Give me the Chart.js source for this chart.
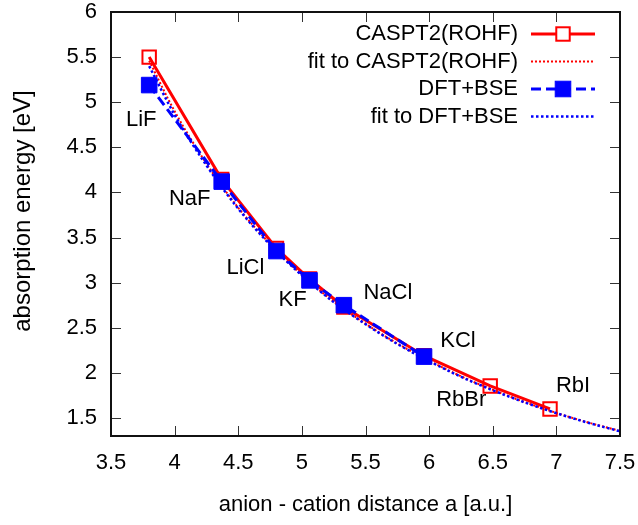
<!DOCTYPE html>
<html><head><meta charset="utf-8">
<script src="https://cdn.jsdelivr.net/npm/chart.js@4.4.0/dist/chart.umd.min.js"></script>
<style>html,body{margin:0;padding:0;background:#fff}#wrap{width:638px;height:525px;position:relative}canvas{display:block}</style>
</head><body><div id="wrap"><canvas id="c" width="638" height="525" style="width:638px;height:525px"></canvas></div>
<script>
// ---- data ----
const compounds = ['LiF','NaF','LiCl','KF','NaCl','KCl','RbBr','RbI'];
const distance  = [3.80, 4.37, 4.80, 5.06, 5.33, 5.96, 6.48, 6.95];
const caspt2    = [5.50, 4.145, 3.38, 3.04, 2.73, 2.19, 1.855, 1.60];
const dftBse    = [5.19, 4.12, 3.35, 3.025, 2.75, 2.18];   // LiF .. KCl
const fitX      = [3.8, 4.0, 4.25, 4.5, 4.75, 5.0, 5.25, 5.5, 5.75, 6.0, 6.25, 6.5, 6.75, 7.0, 7.25, 7.5];
const fitCaspt2 = [5.46, 4.90, 4.32, 3.83, 3.43, 3.085, 2.79, 2.545, 2.325, 2.135, 1.962, 1.812, 1.677, 1.556, 1.450, 1.355];
const fitDft    = [5.40, 4.86, 4.30, 3.82, 3.42, 3.08, 2.785, 2.54, 2.32, 2.13, 1.957, 1.807, 1.673, 1.553, 1.447, 1.352];
const xTicks = [3.5, 4, 4.5, 5, 5.5, 6, 6.5, 7, 7.5];
const yTicks = [1.5, 2, 2.5, 3, 3.5, 4, 4.5, 5, 5.5, 6];
const seriesNames = ['CASPT2(ROHF)', 'fit to CASPT2(ROHF)', 'DFT+BSE', 'fit to DFT+BSE'];
const xTitle = 'anion - cation distance a [a.u.]';
const yTitle = 'absorption energy [eV]';

// ---- styling ----
const FONT = '"Liberation Sans", Arial, sans-serif';
const labelOffsets = [[-8,63],[-32,20],[-31,20],[-17,21],[44,-14],[34,-15],[-29,14],[23,-23]];

const pts = (xs, ys) => ys.map((y, i) => ({x: xs[i], y}));

const tickPlugin = {
  id: 'gnuTicks',
  afterDatasetsDraw(chart) {
    const {ctx, chartArea: a, scales: {x, y}} = chart;
    ctx.save();
    ctx.strokeStyle = '#333';
    ctx.lineWidth = 1;
    const L = 10;
    ctx.beginPath();
    xTicks.forEach(v => {
      const px = Math.round(x.getPixelForValue(v)) + 0.5;
      ctx.moveTo(px, a.bottom); ctx.lineTo(px, a.bottom - L);
      ctx.moveTo(px, a.top); ctx.lineTo(px, a.top + L);
    });
    yTicks.forEach(v => {
      const py = Math.round(y.getPixelForValue(v)) + 0.5;
      ctx.moveTo(a.left, py); ctx.lineTo(a.left + L, py);
      ctx.moveTo(a.right, py); ctx.lineTo(a.right - L, py);
    });
    ctx.stroke();
    ctx.strokeStyle = '#111';
    ctx.lineWidth = 2;
    ctx.strokeRect(a.left, a.top, a.right - a.left, a.bottom - a.top);

    // y axis title
    ctx.save();
    ctx.fillStyle = '#000';
    ctx.font = '24px ' + FONT;
    ctx.textAlign = 'center';
    ctx.textBaseline = 'middle';
    ctx.translate(23, 211);
    ctx.rotate(-Math.PI / 2);
    ctx.fillText(yTitle, 0, 0);
    ctx.restore();

    // compound labels
    ctx.fillStyle = '#000';
    ctx.font = '22px ' + FONT;
    ctx.textAlign = 'center';
    ctx.textBaseline = 'middle';
    compounds.forEach((c, i) => {
      const px = x.getPixelForValue(distance[i]) + labelOffsets[i][0];
      const py = y.getPixelForValue(caspt2[i]) + labelOffsets[i][1];
      ctx.fillText(c, px, py);
    });

    // legend (gnuplot style: text right aligned, sample to the right)
    const textRight = 518, s0 = 531, s1 = 595, rowY = 34, rowH = 27.5;
    chart.data.datasets.forEach((ds, i) => {
      const yy = rowY + i * rowH;
      ctx.textAlign = 'right';
      ctx.fillStyle = '#000';
      ctx.fillText(ds.label, textRight, yy);
      ctx.save();
      ctx.strokeStyle = ds.borderColor;
      ctx.lineWidth = ds.borderWidth;
      ctx.setLineDash(ds.borderDash || []);
      ctx.beginPath(); ctx.moveTo(s0, yy); ctx.lineTo(s1, yy); ctx.stroke();
      ctx.restore();
      if (ds.pointRadius > 0) {
        ctx.save();
        const half = ds.pointRadius * Math.SQRT1_2;
        const cx = (s0 + s1) / 2;
        ctx.fillStyle = ds.pointBackgroundColor === 'transparent' ? '#fff' : ds.pointBackgroundColor;
        ctx.fillRect(cx - half, yy - half, 2*half, 2*half);
        ctx.strokeStyle = ds.pointBorderColor;
        ctx.lineWidth = ds.pointBorderWidth;
        ctx.strokeRect(cx - half, yy - half, 2*half, 2*half);
        ctx.restore();
      }
    });
    ctx.restore();
  }
};

Chart.defaults.color = '#000';
Chart.defaults.font.family = FONT;

new Chart(document.getElementById('c'), {
  type: 'line',
  data: {
    datasets: [
      { label: seriesNames[0], data: pts(distance, caspt2), borderColor: '#ff0000', borderWidth: 3,
        pointStyle: 'rect', pointRadius: 9.5, pointBorderWidth: 2, pointBorderColor: '#ff0000',
        pointBackgroundColor: 'transparent', order: 4 },
      { label: seriesNames[1], data: pts(fitX, fitCaspt2), borderColor: '#ff0000', borderWidth: 2,
        borderDash: [2, 2], pointRadius: 0, cubicInterpolationMode: 'monotone', order: 3 },
      { label: seriesNames[2], data: pts(distance.slice(0, dftBse.length), dftBse), borderColor: '#0000ff',
        borderWidth: 3, borderDash: [10, 5], pointStyle: 'rect', pointRadius: 11, pointBorderWidth: 1,
        pointBorderColor: '#0000ff', pointBackgroundColor: '#0000ff', order: 2 },
      { label: seriesNames[3], data: pts(fitX, fitDft), borderColor: '#0000ff', borderWidth: 2.5,
        borderDash: [2.5, 2.5], pointRadius: 0, cubicInterpolationMode: 'monotone', order: 1 }
    ]
  },
  options: {
    responsive: false, maintainAspectRatio: false, animation: false,
    devicePixelRatio: 1,
    layout: { padding: { top: 8, right: 18, left: 0, bottom: 0 } },
    plugins: { legend: { display: false }, tooltip: { enabled: false } },
    elements: { line: { tension: 0 } },
    scales: {
      x: {
        type: 'linear', min: 3.5, max: 7.5,
        afterBuildTicks: s => { s.ticks = xTicks.map(v => ({value: v})); },
        afterFit: s => { s.height = 89; s.paddingLeft = 0; s.paddingRight = 0; },
        grid: { display: false, drawTicks: false },
        border: { display: false },
        ticks: { padding: 14, font: { size: 22 }, color: '#000', maxRotation: 0, autoSkip: false,
                 callback: v => String(v) },
        title: { display: true, text: xTitle, font: { size: 22, lineHeight: 1 }, padding: { top: 0, bottom: 9 }, color: '#000' }
      },
      y: {
        type: 'linear', min: 1.3, max: 6,
        afterBuildTicks: s => { s.ticks = yTicks.map(v => ({value: v})); },
        afterFit: s => { s.width = 111; s.paddingTop = 0; s.paddingBottom = 0; },
        grid: { display: false, drawTicks: false },
        border: { display: false },
        ticks: { padding: 14, font: { size: 22 }, color: '#000', autoSkip: false, callback: v => String(v) },
        title: { display: false, text: yTitle }
      }
    }
  },
  plugins: [tickPlugin]
});
</script>
</body></html>
